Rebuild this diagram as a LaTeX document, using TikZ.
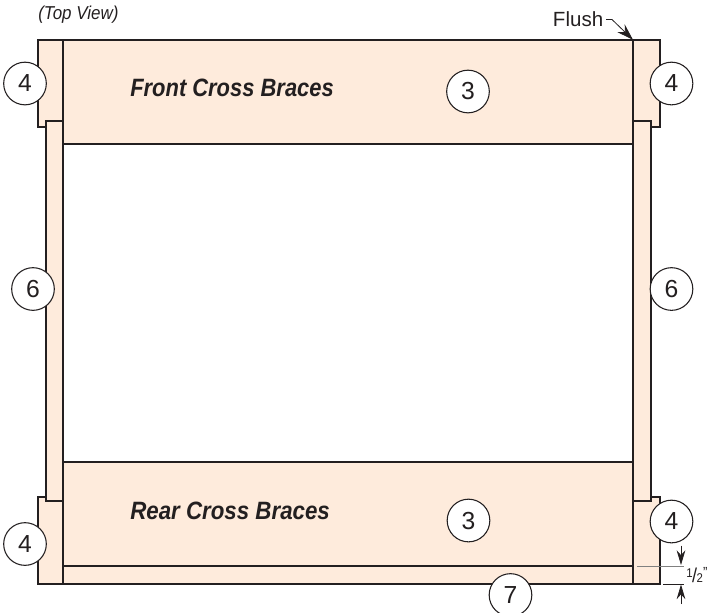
\documentclass[tikz,border=0pt]{standalone}
\usepackage{fontspec}
\setmainfont{Liberation Sans}
\usetikzlibrary{arrows.meta}
\definecolor{wood}{HTML}{FEEBDC}
\definecolor{ink}{HTML}{231F20}
\newcommand{\narrowtext}[2]{\scalebox{#1}[1]{#2}}
\newcommand{\fs}[1]{\fontsize{#1}{#1}\selectfont}
\tikzset{
 x=0.75pt,y=-0.75pt,
 part/.style={draw=ink,fill=wood,line width=1.5pt,line join=miter},
 heavy/.style={draw=ink,line width=1.7pt},
 callout/.style={circle,draw=ink,fill=white,line width=0.8pt,minimum size=32pt,inner sep=0pt,font=\fs{18.5},text=ink},
 lead/.style={draw=ink,line width=0.6pt},
 title/.style={font=\fs{18.8}\bfseries\itshape,text=ink,anchor=west,inner sep=0pt},
 small/.style={text=ink,inner sep=0pt}
}
\begin{document}
\begin{tikzpicture}
\useasboundingbox (0,0) rectangle (708,612);
% corner posts
\path[part] (38,40) -- (63,40) -- (63,126.5) -- (38,126.5) -- cycle;
\path[part] (633,40) -- (659.5,40) -- (659.5,126.5) -- (633,126.5) -- cycle;
\path[part] (38,496.5) -- (63,496.5) -- (63,584) -- (38,584) -- cycle;
\path[part] (633,496.5) -- (659.5,496.5) -- (659.5,584) -- (633,584) -- cycle;
% side rails
\path[part] (46,121) rectangle (63,501);
\path[part] (633,121) rectangle (651,501);
% braces
\path[part] (63,40) rectangle (633,144);
\path[part] (63,462) rectangle (633,566);
\path[part] (63,566) rectangle (633,584);
\coordinate (fl) at (63,144);
\coordinate (fr) at (633,144);
\coordinate (rl) at (63,566);
\coordinate (rr) at (633,566);
\draw[heavy] (fl) -- (fr);
\draw[heavy] (rl) -- (rr);
% text
\node[small,anchor=west,font=\fs{14}\itshape] (view) at (38,15) {\narrowtext{0.91}{(Top View)}};
\node[title] (front) at (130,87.5) {\narrowtext{0.875}{Front Cross Braces}};
\node[title] (rear) at (130,510.5) {\narrowtext{0.89}{Rear Cross Braces}};
\node[small,anchor=east,inner xsep=1.9pt,font=\fs{15.4}] (flush) at (606,19.5) {Flush};
\coordinate (flushbend) at (612,19.5);
\coordinate (flushtip) at (633,39.8);
\draw[lead,-{Stealth[length=12.5pt,width=8pt]}] (flush.east) -- (flushbend) -- (flushtip);
% callouts
\node[callout] (c4a) at (25,83.5) {4};
\node[callout] (c4b) at (671.5,83.5) {4};
\node[callout] (c3a) at (468,91.5) {3};
\node[callout] (c6a) at (33,289) {6};
\node[callout] (c6b) at (671.5,289) {6};
\node[callout] (c3b) at (468.5,520.5) {3};
\node[callout] (c4c) at (25,544) {4};
\node[callout] (c4d) at (671.5,521.5) {4};
\node[callout] (c7) at (510.5,595) {7};
% dimension
\coordinate (d1a) at (637,566);
\coordinate (d1b) at (684,566);
\coordinate (d2a) at (663,584);
\coordinate (d2b) at (684,584);
\draw[lead,draw=gray,line width=0.7pt] (d1a) -- (d1b);
\draw[lead] (d2a) -- (d2b);
\coordinate (up) at (681,545.5);
\coordinate (upe) at (681,565);
\coordinate (dn) at (681,604);
\coordinate (dne) at (681,584.5);
\draw[lead,-{Stealth[length=11pt,width=6.5pt]}] (up) -- (upe);
\draw[lead,-{Stealth[length=11pt,width=6.5pt]}] (dn) -- (dne);
\node[small,anchor=base west] (half) at (686,582) {\narrowtext{0.9}{\raisebox{3.75pt}{\fs{9.5}1}\kern-0.4pt{\fs{15}/}\kern-0.4pt{\fs{9.5}2}\kern0.2pt\raisebox{3.75pt}{\fs{11}"}}};
\end{tikzpicture}
\end{document}
